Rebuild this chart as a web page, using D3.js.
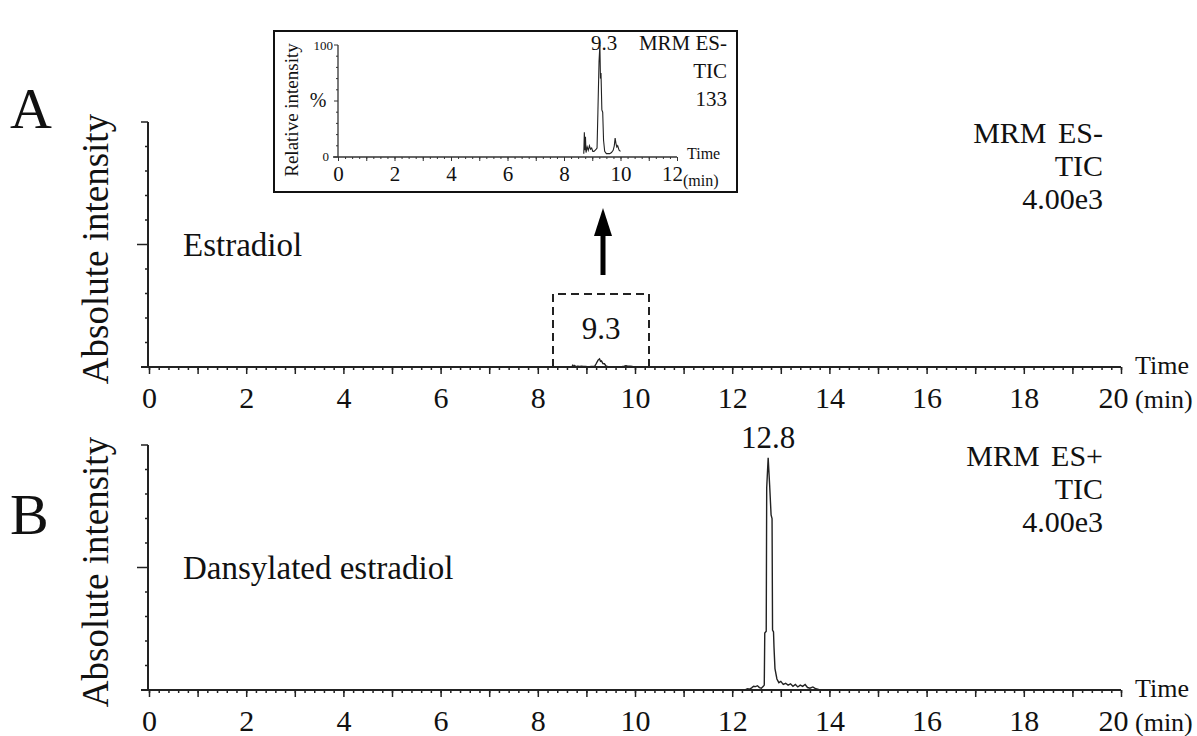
<!DOCTYPE html>
<html lang="en">
<head>
<meta charset="utf-8">
<script src="https://cdn.jsdelivr.net/npm/d3@7"></script>
<style>
  body { margin: 0; background: #fff; }
</style>
</head>
<body>
<script>
var w = 1197, h = 736;
var serif = "'Liberation Serif', 'Times New Roman', serif";

// Panel A trace (relative %, 100 = TIC 133), also drawn in the inset
var aTime = [8.70, 8.72, 8.74, 8.76, 8.78, 8.82, 8.86, 8.90, 8.94, 8.98, 9.02, 9.06, 9.10, 9.14,
             9.17, 9.20, 9.24, 9.27, 9.29, 9.31, 9.34, 9.37, 9.40, 9.44, 9.50, 9.56, 9.62, 9.68,
             9.74, 9.78, 9.81, 9.84, 9.87, 9.90, 9.95, 10.0];
var aRel  = [3, 22, 6, 18, 4, 9, 6, 10, 7, 8, 5, 5, 6, 7,
             8, 40, 85, 100, 70, 75, 42, 40, 15, 5, 3, 3, 3, 4,
             6, 10, 17, 12, 9, 10, 6, 5];
var aTic = 133;

// Panel B trace (counts)
var bTime = [12.28, 12.32, 12.36, 12.40, 12.44, 12.48, 12.52, 12.56, 12.60, 12.64, 12.66, 12.67,
             12.70, 12.71, 12.74, 12.77, 12.80, 12.82, 12.83, 12.85, 12.86, 12.88, 12.92, 12.96,
             13.00, 13.05, 13.10, 13.15, 13.20, 13.25, 13.30, 13.35, 13.40, 13.45, 13.50, 13.55,
             13.60, 13.66, 13.72, 13.78];
var bVal  = [10, 20, 15, 35, 60, 55, 70, 40, 30, 60, 80, 930,
             960, 3300, 3790, 3350, 2860, 2800, 980, 950, 700, 350, 180, 120,
             140, 90, 110, 80, 100, 60, 90, 50, 80, 60, 90, 40,
             30, 50, 20, 10];

var fullScale = 4000;
var xTicksLabel = d3.range(0, 21, 2);

var svg = d3.select("body").append("svg").attr("width", w).attr("height", h);

var x = d3.scaleLinear().domain([0, 20]).range([149, 1121]);

function panel(opt) {
  var y = d3.scaleLinear().domain([0, fullScale]).range([opt.base, opt.base - 245]);
  var g = svg.append("g");

  // y axis: minor ticks, mid tick, top tick
  g.append("line").attr("x1", 148).attr("x2", 148).attr("y1", y(fullScale)).attr("y2", y(0))
    .attr("stroke", "#222").attr("stroke-width", 2);
  d3.range(1, 11).forEach(function(i) {
    var len = i === 5 ? 11 : (i === 10 ? 7 : 3);
    g.append("line").attr("x1", 148 - len).attr("x2", 148).attr("y1", y(i * 400)).attr("y2", y(i * 400))
      .attr("stroke", "#222").attr("stroke-width", 1.5);
  });

  // x axis
  var minor = d3.axisBottom(x).tickValues(d3.range(0, 20.01, 0.2)).tickSize(3).tickFormat("");
  var major = d3.axisBottom(x).tickValues(d3.range(0, 21, 1)).tickSize(7).tickFormat("");
  var labels = d3.axisBottom(x).tickValues(xTicksLabel).tickSize(0).tickPadding(20).tickFormat(d3.format("d"));
  [minor, major].forEach(function(ax) {
    var a = g.append("g").attr("transform", "translate(0," + opt.base + ")").call(ax);
    a.select(".domain").remove();
    a.selectAll("line").attr("stroke", "#222").attr("stroke-width", 1.5);
  });
  g.append("line").attr("x1", 141).attr("x2", x(20)).attr("y1", opt.base).attr("y2", opt.base)
    .attr("stroke", "#222").attr("stroke-width", 2);
  var la = g.append("g").attr("transform", "translate(0," + opt.base + ")").call(labels);
  la.select(".domain").remove();
  la.selectAll("text").style("font-size", "30px");
  la.selectAll(".tick").filter(function(d) { return d === 20; }).select("text").attr("dx", "-8");

  g.append("text").attr("x", 1135).attr("y", opt.base + 7).style("font-size", "26px").text("Time");
  g.append("text").attr("x", 1135).attr("y", opt.base + 41).style("font-size", "26px").text("(min)");

  // trace
  var line = d3.line().x(function(d) { return x(d[0]); }).y(function(d) { return y(d[1]); });
  g.append("path").datum(d3.zip(opt.t, opt.v)).attr("d", line)
    .attr("fill", "none").attr("stroke", "#222").attr("stroke-width", 1.4);

  // labels
  g.append("text").attr("x", 10).attr("y", opt.letterY).style("font-size", "58px").text(opt.letter);
  g.append("text").attr("transform", "translate(108," + (opt.base - 118) + ") rotate(-90)")
    .attr("text-anchor", "middle").style("font-size", "37px").text("Absolute intensity");
  g.append("text").attr("x", 183).attr("y", opt.base - 111).style("font-size", "33px").text(opt.name);
  opt.info.forEach(function(s, i) {
    g.append("text").attr("x", 1103).attr("y", opt.base - 224 + i * 33).attr("text-anchor", "end")
      .style("font-size", "30px").attr("word-spacing", "4px").text(s);
  });
  return { g: g, y: y };
}

var pA = panel({ base: 367, letter: "A", letterY: 128, name: "Estradiol",
  t: aTime, v: aRel.map(function(d) { return d * aTic / 100; }),
  info: ["MRM ES-", "TIC", "4.00e3"] });
var pB = panel({ base: 690, letter: "B", letterY: 534, name: "Dansylated estradiol",
  t: bTime, v: bVal, info: ["MRM ES+", "TIC", "4.00e3"] });

// peak labels
pA.g.append("text").attr("x", 601).attr("y", 339).attr("text-anchor", "middle").style("font-size", "31px").text("9.3");
pB.g.append("text").attr("x", 768).attr("y", 448).attr("text-anchor", "middle").style("font-size", "31px").text("12.8");

// dashed box around the 9.3 peak
svg.append("path").attr("d", "M553,367 V294 H649 V367")
  .attr("fill", "none").attr("stroke", "#222").attr("stroke-width", 2).attr("stroke-dasharray", "8,5");

// arrow
svg.append("line").attr("x1", 603).attr("x2", 603).attr("y1", 275).attr("y2", 232)
  .attr("stroke", "#000").attr("stroke-width", 5);
svg.append("path").attr("d", "M594,236 L612,236 L603,208 Z").attr("fill", "#000");

// inset
var inset = svg.append("g");
inset.append("rect").attr("x", 274).attr("y", 31).attr("width", 463).attr("height", 161)
  .attr("fill", "#fff").attr("stroke", "#111").attr("stroke-width", 2);
var ix = d3.scaleLinear().domain([0, 12]).range([338, 677]);
var iy = d3.scaleLinear().domain([0, 100]).range([157, 45]);

inset.append("line").attr("x1", 338).attr("x2", 338).attr("y1", iy(100)).attr("y2", iy(0))
  .attr("stroke", "#333").attr("stroke-width", 1.3);
d3.range(0, 101, 10).forEach(function(v) {
  var len = (v % 50 === 0) ? 4 : 2;
  inset.append("line").attr("x1", 338 - len).attr("x2", 338).attr("y1", iy(v)).attr("y2", iy(v))
    .attr("stroke", "#333").attr("stroke-width", 1);
});
var iMinor = d3.axisBottom(ix).tickValues(d3.range(0, 12.01, 0.25)).tickSize(2).tickFormat("");
var iMajor = d3.axisBottom(ix).tickValues(d3.range(0, 13, 1)).tickSize(4).tickFormat("");
var iLab = d3.axisBottom(ix).tickValues(d3.range(0, 13, 2)).tickSize(0).tickPadding(9).tickFormat(d3.format("d"));
[iMinor, iMajor].forEach(function(ax) {
  var a = inset.append("g").attr("transform", "translate(0,157)").call(ax);
  a.select(".domain").remove();
  a.selectAll("line").attr("stroke", "#333").attr("stroke-width", 1);
});
inset.append("line").attr("x1", 333).attr("x2", ix(12)).attr("y1", 157).attr("y2", 157)
  .attr("stroke", "#333").attr("stroke-width", 1.3);
var il = inset.append("g").attr("transform", "translate(0,157)").call(iLab);
il.select(".domain").remove();
il.selectAll("text").style("font-size", "21px");
il.selectAll(".tick").filter(function(d) { return d === 12; }).select("text").attr("dx", "-5");

inset.append("text").attr("x", 333).attr("y", 50).attr("text-anchor", "end").style("font-size", "13px").text("100");
inset.append("text").attr("x", 329).attr("y", 161).attr("text-anchor", "end").style("font-size", "13px").text("0");
inset.append("text").attr("x", 318).attr("y", 107).attr("text-anchor", "middle").style("font-size", "20px").text("%");
inset.append("text").attr("transform", "translate(298,110) rotate(-90)").attr("text-anchor", "middle")
  .style("font-size", "19px").text("Relative intensity");
inset.append("text").attr("x", 687).attr("y", 159).style("font-size", "16px").text("Time");
inset.append("text").attr("x", 683).attr("y", 186).style("font-size", "16px").text("(min)");
inset.append("text").attr("x", 604).attr("y", 50).attr("text-anchor", "middle").style("font-size", "21px").text("9.3");
["MRM ES-", "TIC", "133"].forEach(function(s, i) {
  inset.append("text").attr("x", 727).attr("y", 50 + i * 28).attr("text-anchor", "end")
    .style("font-size", "21px").text(s);
});

var iline = d3.line().x(function(d) { return ix(d[0]); }).y(function(d) { return iy(d[1]); });
inset.append("path").datum(d3.zip(aTime, aRel)).attr("d", iline)
  .attr("fill", "none").attr("stroke", "#222").attr("stroke-width", 1.1);

// one serif face for every label
svg.selectAll("text").style("font-family", serif).attr("fill", "#111");
</script>
</body>
</html>
